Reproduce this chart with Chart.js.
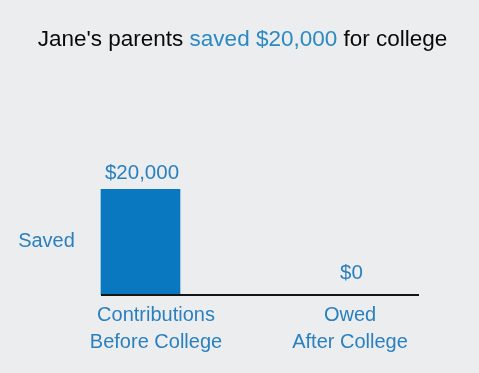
<!DOCTYPE html>
<html>
<head>
<meta charset="utf-8">
<script src="https://cdn.jsdelivr.net/npm/chart.js@4/dist/chart.umd.min.js"></script>
<style>
  html, body { margin: 0; padding: 0; background: #ecedef; }
  #wrap { width: 479px; height: 373px; }
</style>
</head>
<body>
<div id="wrap"><canvas id="c" width="479" height="373"></canvas></div>
<script>
// ---- data ----
const categories = [["Contributions", "Before College"], ["Owed", "After College"]];
const values = [20000, 0];
const seriesLabel = "Saved";
const titleParts = [
  { text: "Jane's parents ", highlight: false },
  { text: "saved $20,000", highlight: true },
  { text: " for college", highlight: false }
];

const BLUE_BAR = '#0a77c1';
const BLUE_TEXT = '#2a80bf';
const FONT = '"Liberation Sans", Arial, Helvetica, sans-serif';

function money(v) { return '$' + v.toLocaleString('en-US'); }

const decor = {
  id: 'decor',
  afterDatasetsDraw(chart, args, opts) {
    const ctx = chart.ctx;
    const xs = chart.scales.x, ys = chart.scales.y;
    const meta = chart.getDatasetMeta(0);
    const y0 = ys.getPixelForValue(0);
    ctx.save();

    // baseline
    const first = meta.data[0];
    const xStart = first.x - first.width / 2;
    const xEnd = xs.getPixelForValue(values.length - 1) + opts.lineOverhang;
    ctx.strokeStyle = '#151515';
    ctx.lineWidth = 2;
    ctx.beginPath();
    ctx.moveTo(xStart, y0);
    ctx.lineTo(xEnd, y0);
    ctx.stroke();

    // value labels
    ctx.fillStyle = BLUE_TEXT;
    ctx.font = '20.5px ' + FONT;
    ctx.textAlign = 'center';
    ctx.textBaseline = 'alphabetic';
    meta.data.forEach((el, i) => {
      const ly = Math.min(el.y - 10, y0 - 16);
      ctx.fillText(money(values[i]), el.x + 1.5, ly);
    });

    // category labels
    ctx.font = '20px ' + FONT;
    categories.forEach((lines, i) => {
      const cx = xs.getPixelForValue(i) + opts.catShift[i];
      lines.forEach((t, j) => {
        ctx.fillText(t, cx, y0 + 26 + j * 27);
      });
    });

    // series label
    ctx.fillText(seriesLabel, 46.5, ys.getPixelForValue(values[0] / 2) + 5);

    // title
    ctx.font = '22.5px ' + FONT;
    ctx.textAlign = 'left';
    let total = 0;
    titleParts.forEach(p => total += ctx.measureText(p.text).width);
    let tx = 242.5 - total / 2;
    titleParts.forEach(p => {
      ctx.fillStyle = p.highlight ? '#2b8ac4' : '#0a0a0a';
      ctx.fillText(p.text, tx, 45.5);
      tx += ctx.measureText(p.text).width;
    });
    ctx.restore();
  }
};

new Chart(document.getElementById('c'), {
  type: 'bar',
  data: {
    labels: categories,
    datasets: [{
      label: seriesLabel,
      data: values,
      backgroundColor: BLUE_BAR,
      borderWidth: 0,
      barThickness: 79
    }]
  },
  options: {
    responsive: false,
    devicePixelRatio: 1,
    animation: false,
    layout: { padding: { top: 189, bottom: 78, left: 35.75, right: 24.25 } },
    plugins: {
      legend: { display: false },
      title: { display: false },
      tooltip: { enabled: false },
      decor: { lineOverhang: 69, catShift: [15.5, 0] }
    },
    scales: {
      x: { display: false, offset: true, grid: { display: false } },
      y: { display: false, min: 0, max: 20000 }
    }
  },
  plugins: [decor]
});
</script>
</body>
</html>
